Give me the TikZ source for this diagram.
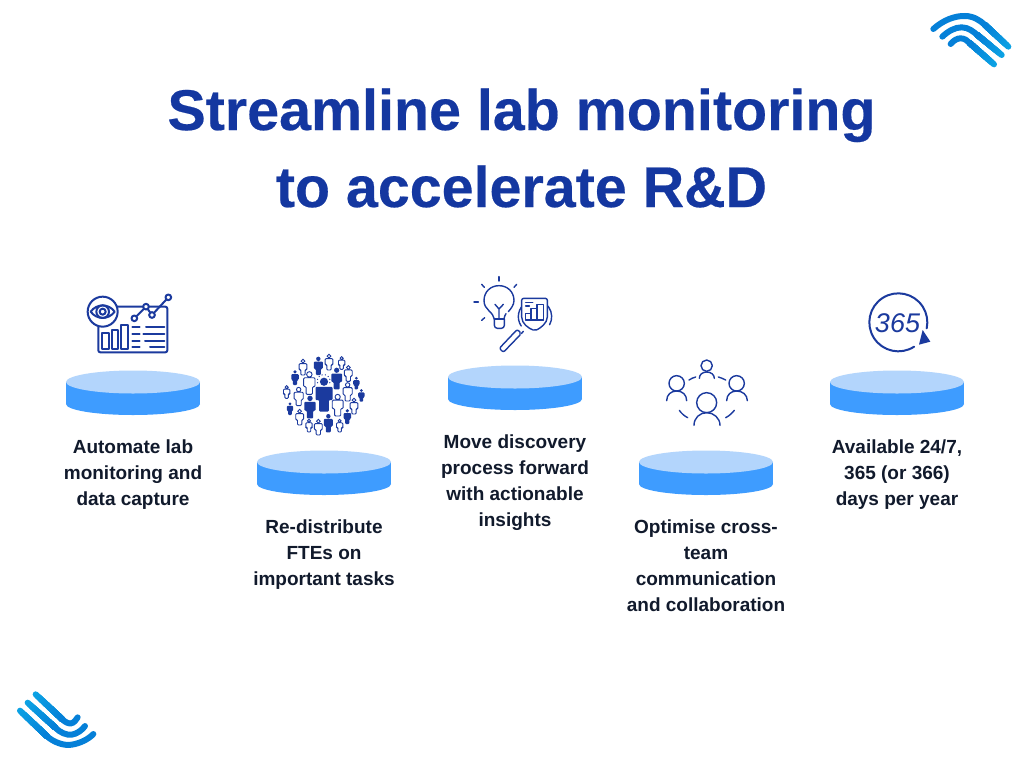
\documentclass[tikz,border=0pt]{standalone}
\usepackage{fontspec}
\setmainfont{Liberation Sans}
\newfontfamily\heavyfont[FakeBold=0.35]{Liberation Sans Bold}
\usetikzlibrary{calc}
\definecolor{titleblue}{HTML}{1437A0}
\definecolor{iconblue}{HTML}{1B3A9E}
\definecolor{disktop}{HTML}{B3D5FC}
\definecolor{diskside}{HTML}{3E9CFF}
\definecolor{bodyink}{HTML}{111A2C}
\definecolor{logodark}{HTML}{0580D8}
\definecolor{logolight}{HTML}{0CA2E4}
\tikzset{
  titletext/.style={font=\heavyfont\fontsize{57.4}{58}\selectfont,text=titleblue,anchor=base,inner sep=0},
  bodytext/.style={font=\bfseries\fontsize{19}{26}\selectfont,text=bodyink,anchor=north,align=center,inner sep=0},
  iconline/.style={draw=iconblue,line width=1.4pt,line cap=round,line join=round},
  iconthick/.style={draw=iconblue,line width=2pt,line cap=round,line join=round},
  logostroke/.style={line width=6pt,line cap=round},
}
\newcommand{\diskat}[2]{%
  \fill[diskside] (#1-67,#2) rectangle (#1+67,#2+22);
  \fill[diskside] (#1,#2+22) ellipse[x radius=67,y radius=11];
  \fill[disktop] (#1,#2) ellipse[x radius=67,y radius=11.5];
}
\newcommand{\personpath}[3]{%
  [shift={(#1,#2)},scale=#3]
  (0,0.12) circle[radius=0.12]
  [rounded corners=1pt]
  (-0.25,0.27) -- (0.25,0.27) -- (0.25,0.66) -- (0.14,0.66) -- (0.14,1) -- (-0.14,1) -- (-0.14,0.66) -- (-0.25,0.66) -- cycle
}
\newcommand{\gradline}[4]{%
  \foreach \st in {100,92,84,76,68,60,52,44,36,28,20,12,4}{%
    \pgfmathsetmacro{\mx}{\st}
    \draw[logostroke,color=#4!\mx!#3] (#1) -- ($(#1)!\st/100!(#2)$);
  }%
}
\begin{document}
\begin{tikzpicture}[x=1pt,y=-1pt]
\useasboundingbox (0,0) rectangle (1024,768);
\fill[white] (0,0) rectangle (1024,768);

% top-right logo
\begin{scope}[shift={(920,5)},scale=1/3]
  \coordinate (la1) at (195,60); \coordinate (la2) at (265,125);
  \coordinate (lb1) at (172,90); \coordinate (lb2) at (245,150);
  \coordinate (lc1) at (150,115); \coordinate (lc2) at (222,178);
  \gradline{la1}{la2}{logodark}{logolight}
  \gradline{lb1}{lb2}{logodark}{logolight}
  \gradline{lc1}{lc2}{logodark}{logolight}
  \draw[logostroke,logodark] (40,72) .. controls (70,45) and (105,32) .. (135,33) .. controls (160,33) and (180,46) .. (la1);
  \draw[logostroke,logodark] (67,95) .. controls (85,78) and (105,67) .. (125,67) .. controls (145,67) and (160,80) .. (lb1);
  \draw[logostroke,logodark] (92,117) .. controls (102,105) and (112,100) .. (122,100) .. controls (135,100) and (142,108) .. (lc1);
\end{scope}

% bottom-left logo
\begin{scope}[shift={(5,680)},scale=1/3]
  \coordinate (ld1) at (125,168); \coordinate (ld2) at (45,92);
  \coordinate (le1) at (150,142); \coordinate (le2) at (68,68);
  \coordinate (lf1) at (172,118); \coordinate (lf2) at (92,43);
  \gradline{ld1}{ld2}{logodark}{logolight}
  \gradline{le1}{le2}{logodark}{logolight}
  \gradline{lf1}{lf2}{logodark}{logolight}
  \draw[logostroke,logodark] (ld1) .. controls (145,186) and (175,198) .. (200,194) .. controls (225,190) and (250,178) .. (265,162);
  \draw[logostroke,logodark] (le1) .. controls (165,158) and (185,166) .. (200,164) .. controls (215,162) and (232,150) .. (240,138);
  \draw[logostroke,logodark] (lf1) .. controls (182,128) and (192,131) .. (198,130) .. controls (206,129) and (214,120) .. (218,112);
\end{scope}

% title
\node[titletext] (title1) at (521.5,130) {Streamline lab monitoring};
\node[titletext] (title2) at (521.5,207) {to accelerate R\&D};

% disks
\diskat{133}{382}
\diskat{324}{462}
\diskat{515}{377}
\diskat{706}{462}
\diskat{897}{382}

% labels
\node[bodytext] (lab1) at (133,440) {Automate lab\\monitoring and\\data capture};
\node[bodytext] (lab2) at (324,520) {Re-distribute\\FTEs on\\important tasks};
\node[bodytext] (lab3) at (515,435) {Move discovery\\process forward\\with actionable\\insights};
\node[bodytext] (lab4) at (706,520) {Optimise cross-\\team\\communication\\and collaboration};
\node[bodytext] (lab5) at (897,440) {Available 24/7,\\365 (or 366)\\days per year};

% icon 1: monitoring dashboard
\begin{scope}[shift={(70,280)},scale=1/3]
  \draw[iconthick,fill=white,rounded corners=2pt] (85,80) rectangle (292,217);
  \draw[iconthick,fill=white] (98,95) circle[radius=45];
  \draw[iconthick] (62,95) .. controls (80,70) and (116,70) .. (134,95) .. controls (116,120) and (80,120) .. cycle;
  \draw[iconthick] (98,95) circle[radius=19];
  \draw[iconthick] (98,95) circle[radius=9];
  \draw[iconthick] (97,158) rectangle (116,208);
  \draw[iconthick] (126,150) rectangle (145,208);
  \draw[iconthick] (154,135) rectangle (174,208);
  \draw[iconthick] (193,115) -- (228,80) -- (246,105) -- (295,52);
  \foreach \px/\py in {193/115,228/80,246/105,295/52}
    \draw[iconthick,fill=white] (\px,\py) circle[radius=8.5];
  \foreach \ly/\la/\lb/\lc in {142/187/228/283,162/187/220/283,182/187/225/283,202/187/240/283}{
    \draw[iconthick] (\la,\ly) -- (\la+22,\ly);
    \draw[iconthick] (\lb,\ly) -- (\lc,\ly);
  }
\end{scope}

% icon 2: crowd of people
\begin{scope}[shift={(270,345)},scale=1/3]
  \foreach \px/\py/\ph in {145/35/55,75/75/45,200/68/65,120/152/68,60/172/38,175/207/55,232/192/45,259/95/38,274/132/38}
    \fill[iconblue] \personpath{\px}{\py}{\ph};
  \foreach \px/\py/\ph in {177/28/47,215/35/38,99/43/47,235/62/47,118/80/68,50/122/38,86/127/55,233/113/55,203/148/65,252/160/47,89/193/47,117/223/38,145/223/47,209/223/38}
    \draw[iconblue,line width=0.9pt,fill=white] \personpath{\px}{\py}{\ph};
  \fill[iconblue] \personpath{162}{98}{102};
  \foreach \da in {165,195,225,255,285,315,345,15}
    \fill[iconblue] ($(161,108)+(\da:19)$) circle[radius=2];
\end{scope}

% icon 3: bulb and magnifier
\begin{scope}[shift={(460,270)},scale=1/3]
  \draw[iconline] (103,147) .. controls (100,125) and (72,120) .. (72,92) .. controls (72,65) and (92,47) .. (117,47) .. controls (142,47) and (162,65) .. (162,92) .. controls (162,105) and (152,117) .. (145,125);
  \draw[iconline] (103,147) -- (132,147);
  \draw[iconline] (132,147) .. controls (133,140) and (135,135) .. (138,131);
  \draw[iconline,rounded corners=3pt] (103,147) -- (103,175) -- (133,175) -- (133,147);
  \draw[iconline] (117,147) -- (117,117) -- (105,103) (117,117) -- (130,103);
  \draw[iconline] (117,20) -- (117,33);
  \draw[iconline] (65,43) -- (73,52);
  \draw[iconline] (170,43) -- (162,52);
  \draw[iconline] (42,96) -- (55,96);
  \draw[iconline] (65,151) -- (74,143);
  \draw[iconline] (225,140) ++(146:50) arc[start angle=146,end angle=389,radius=50];
  \draw[iconline,rounded corners=2pt,fill=white] (185,85) -- (262,85) -- (262,135) .. controls (262,160) and (240,175) .. (225,182) .. controls (205,175) and (185,160) .. (185,135) -- cycle;
  \draw[iconline] (197,150) -- (250,150);
  \draw[iconline] (197,150) -- (197,130) -- (213,130) -- (213,150);
  \draw[iconline] (213,130) -- (213,115) -- (231,115) -- (231,150);
  \draw[iconline] (231,115) -- (231,103) -- (250,103) -- (250,150);
  \draw[iconline] (197,97) -- (218,97);
  \draw[iconline] (197,108) -- (208,108);
  \draw[iconline,rounded corners=2pt] (172,178) -- (184,191) -- (130,247) -- (118,235) -- cycle;
  \draw[iconline] (184,191) -- (190,184);
\end{scope}

% icon 4: team circle
\begin{scope}[shift={(655,350)},scale=1/3]
  \draw[iconline] (155,47) circle[radius=17];
  \draw[iconline] (133,85) .. controls (133,74) and (142,66) .. (155,66) .. controls (168,66) and (178,74) .. (178,85);
  \draw[iconline] (65,100) circle[radius=23];
  \draw[iconline] (35,152) .. controls (35,134) and (48,123) .. (65,123) .. controls (82,123) and (95,134) .. (95,152);
  \draw[iconline] (245,100) circle[radius=23];
  \draw[iconline] (215,152) .. controls (215,134) and (228,123) .. (245,123) .. controls (262,123) and (277,134) .. (277,152);
  \draw[iconline] (155,158) circle[radius=30];
  \draw[iconline] (117,226) .. controls (117,204) and (134,188) .. (155,188) .. controls (176,188) and (195,204) .. (195,226);
  \draw[iconline] (102,90) .. controls (108,86) and (115,83) .. (122,81);
  \draw[iconline] (190,81) .. controls (197,83) and (205,86) .. (212,90);
  \draw[iconline] (73,181) .. controls (79,190) and (88,198) .. (98,203);
  \draw[iconline] (212,203) .. controls (222,198) and (231,190) .. (238,181);
\end{scope}

% icon 5: 365
\begin{scope}[shift={(855,285)},scale=1/3]
  \draw[iconthick] (130,112) ++(57:87) arc[start angle=57,end angle=372,radius=87];
  \fill[iconblue] (203,135) -- (226,170) -- (192,179) -- cycle;
\end{scope}
\node[font=\itshape\fontsize{27}{27}\selectfont,text=iconblue,inner sep=0] (days) at (897.5,323.5) {365};
\end{tikzpicture}
\end{document}
